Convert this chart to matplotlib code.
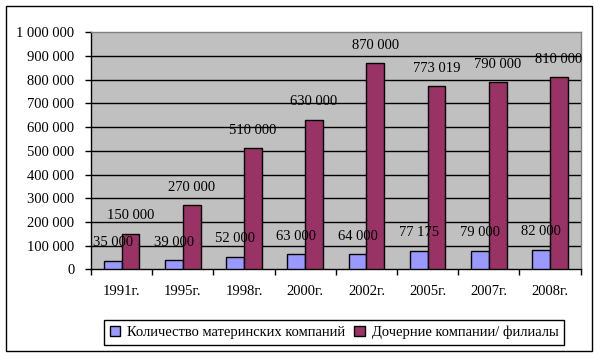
import matplotlib
matplotlib.use("Agg")
import matplotlib.pyplot as plt
from matplotlib.patches import Rectangle, Patch
import numpy as np

categories = ["1991г.", "1995г.", "1998г.", "2000г.", "2002г.", "2005г.", "2007г.", "2008г."]
parent_companies = [35000, 39000, 52000, 63000, 64000, 77175, 79000, 82000]
subsidiaries = [150000, 270000, 510000, 630000, 870000, 773019, 790000, 810000]
series_names = ["Количество материнских компаний", "Дочерние компании/ филиалы"]
yticks = list(range(0, 1000001, 100000))

plt.rcParams['font.family'] = ['Liberation Serif', 'DejaVu Serif']
FS = 10.5

def fmt(v):
    return f"{v:,}".replace(",", " ")

fig = plt.figure(figsize=(5.99, 3.58), dpi=100)
fig.patch.set_facecolor("white")
ax = fig.add_axes([91/599, 1-269.3/358, (580.7-91)/599, (269.3-32.3)/358])
ax.set_facecolor("#C0C0C0")

x = np.arange(len(categories))
w = 0.29
b1 = ax.bar(x - w/2, parent_companies, w, color="#9999FF", edgecolor="black", linewidth=1, zorder=3)
b2 = ax.bar(x + w/2, subsidiaries, w, color="#993366", edgecolor="black", linewidth=1, zorder=3)

for bars, vals in ((b1, parent_companies), (b2, subsidiaries)):
    for r, v in zip(bars, vals):
        ax.annotate(fmt(v), (r.get_x() + r.get_width()/2, v), xytext=(0, 13),
                    textcoords="offset points", ha="center", va="center",
                    fontsize=FS, zorder=4)

ax.set_xlim(-0.5, len(categories) - 0.5)
ax.set_ylim(0, 1000000)
ax.set_yticks(yticks)
ax.set_yticklabels([fmt(v) for v in yticks], fontsize=FS)
ax.set_xticks(x)
ax.set_xticklabels(categories, fontsize=FS)
ax.set_xticks(np.arange(-0.5, len(categories), 1.0), minor=True)
ax.tick_params(axis="x", which="major", length=0, pad=11)
ax.tick_params(axis="x", which="minor", length=4, width=1, color="black", direction="out")
ax.tick_params(axis="y", which="major", length=4, width=1, color="black", direction="out", pad=8)

ax.set_axisbelow(True)
for v in yticks[1:-1]:
    ax.axhline(v, color="black", linewidth=1, zorder=1)

ax.spines["left"].set_color("black")
ax.spines["bottom"].set_color("black")
ax.spines["top"].set_color("#808080")
ax.spines["right"].set_color("#808080")
for s in ax.spines.values():
    s.set_linewidth(1)

handles = [Patch(facecolor="#9999FF", edgecolor="black", linewidth=1),
           Patch(facecolor="#993366", edgecolor="black", linewidth=1)]
leg = fig.legend(handles, series_names, loc="center", bbox_to_anchor=(0.558, 0.071),
                 bbox_transform=fig.transFigure, ncol=2, fontsize=FS, frameon=True,
                 fancybox=False, edgecolor="black", framealpha=1, handlelength=0.7,
                 handleheight=0.7, handletextpad=0.5, columnspacing=0.6,
                 borderpad=0.4, borderaxespad=0)
leg.get_frame().set_linewidth(1)

fig.add_artist(Rectangle((6/599, 1-351/358), (592-6)/599, (351-6)/358,
                         transform=fig.transFigure, fill=False, edgecolor="black", linewidth=1))

fig.savefig("out.png", dpi=100)
